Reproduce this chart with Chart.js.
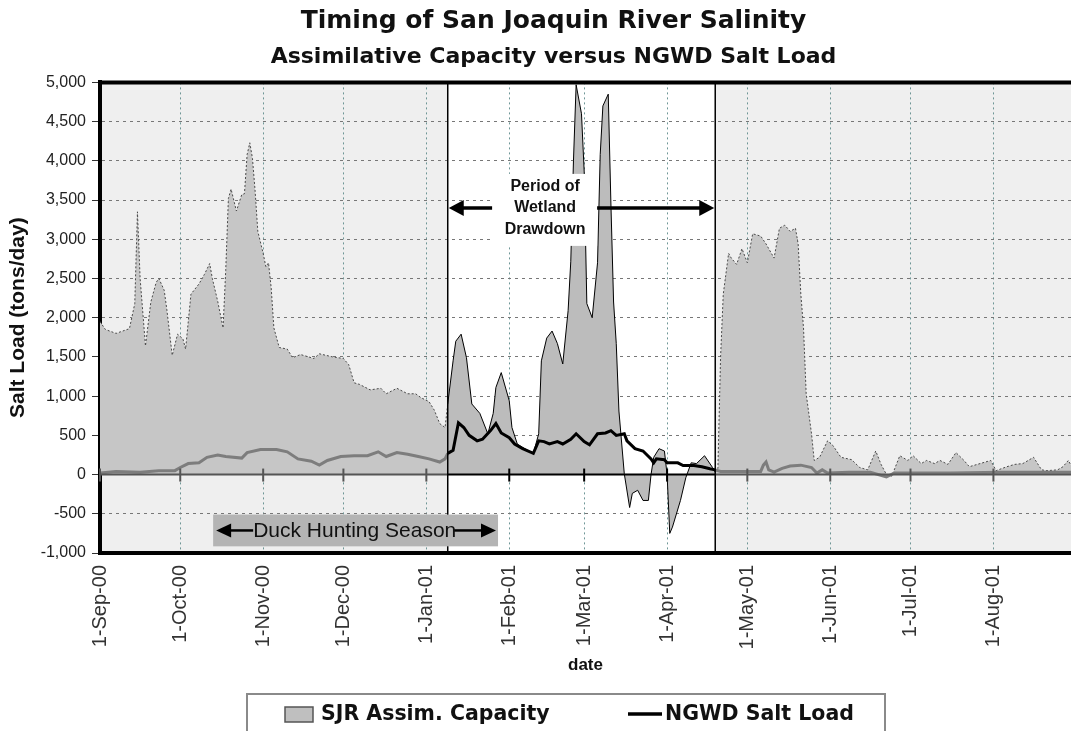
<!DOCTYPE html>
<html>
<head>
<meta charset="utf-8">
<script src="https://cdn.jsdelivr.net/npm/chart.js@4.4.1/dist/chart.umd.min.js"></script>
<style>
  html, body { margin: 0; padding: 0; background: #fff; }
  #wrap { width: 1071px; height: 731px; position: relative; }
</style>
</head>
<body>
<div id="wrap"><canvas id="c"></canvas></div>
<script>
// ---------- data (days since 1-Sep-2000) ----------
const monthTickDays = [0, 30, 61, 91, 122, 153, 181, 212, 242, 273, 303, 334];
const monthTickLabels = ['1-Sep-00', '1-Oct-00', '1-Nov-00', '1-Dec-00', '1-Jan-01', '1-Feb-01',
                         '1-Mar-01', '1-Apr-01', '1-May-01', '1-Jun-01', '1-Jul-01', '1-Aug-01'];
const seriesLabels = ['SJR Assim. Capacity', 'NGWD Salt Load'];

const assimDays = [0, 2, 6, 11, 13, 14, 15, 17, 19, 21, 22, 24, 25, 27, 29, 31, 32, 34, 37, 39, 41, 42, 44, 46, 47,
  48, 49, 51, 53, 54, 55, 56, 57, 58, 59, 61, 62, 63, 64, 65, 67, 70, 72, 75, 80, 82, 87, 91, 93, 95, 97,
  101, 105, 107, 111, 115, 118, 120, 123, 125, 127, 129, 130, 132, 133, 135, 137, 139, 142, 145, 147, 148,
  150, 153, 154, 156, 160, 162, 164, 165, 167, 169, 171, 173, 175, 176, 177, 178, 180, 181, 182, 184, 186,
  187, 188, 190, 191, 192, 193, 194, 196, 198, 199, 201, 203, 205, 206, 207, 209, 211, 212, 213, 214, 217,
  219, 221, 223, 226, 229, 230, 231, 232, 233, 234, 235, 236, 238, 240, 242, 244, 247, 249, 252, 254, 256,
  258, 260, 261, 262, 263, 264, 266, 267, 269, 272, 274, 277, 281, 284, 287, 290, 292, 294, 296, 299, 302,
  304, 307, 309, 312, 314, 317, 320, 323, 325, 329, 333, 335, 339, 342, 345, 349, 352, 354, 358, 360, 362, 363];
const assimValues = [1950, 1850, 1800, 1860, 2180, 3350, 2500, 1640, 2200, 2450, 2500, 2350, 2100, 1520, 1790, 1730, 1600, 2300, 2430, 2550, 2690, 2500, 2210, 1870, 2600,
  3520, 3640, 3360, 3570, 3580, 4080, 4230, 4030, 3610, 3100, 2820, 2650, 2700, 2380, 1870, 1620, 1600, 1490, 1530, 1480, 1540, 1500, 1480, 1400, 1170, 1150,
  1080, 1100, 1030, 1100, 1030, 1030, 980, 930, 820, 650, 600, 900, 1450, 1700, 1790, 1490, 900, 780, 520, 780, 1110,
  1300, 940, 600, 390, 305, 270, 520, 1450, 1740, 1830, 1670, 1410, 2090, 2720, 4000, 4970, 4600, 3870, 2180, 2000, 2700,
  4080, 4700, 4850, 3450, 2200, 1670, 810, 10, -420, -240, -200, -330, -330, 0, 220, 330, 300, 0, -750, -670, -330,
  -40, 150, 140, 240, 90, 30, 80, 1500, 2300, 2560, 2820, 2760, 2680, 2880, 2700, 3070, 3040, 2940, 2760, 3140, 3180,
  3100, 3140, 2940, 2300, 1870, 1030, 520, 180, 220, 430, 370, 220, 190, 90, 60, 300, 130, 0, -20, 240, 180,
  240, 140, 180, 140, 180, 130, 280, 180, 100, 140, 180, 50, 100, 130, 140, 220, 60, 50, 60, 100, 180, 120];

const ngwdDays = [0, 6, 15, 22, 28, 30, 33, 37, 40, 44, 47, 53, 55, 60, 66, 70, 74, 79, 82, 85, 90, 95, 100, 104, 107,
  111, 115, 119, 123, 127, 129, 130, 132, 134, 136, 138, 141, 143, 146, 148, 150, 153, 155, 158, 162, 164, 166, 168,
  171, 173, 176, 178, 181, 183, 186, 189, 191, 193, 196, 197, 200, 203, 206, 207, 208, 211, 212, 216, 218, 222, 225,
  228, 230, 232, 239, 247, 248, 249, 250, 252, 255, 258, 262, 266, 268, 270, 272, 280, 288, 294, 297, 318, 337, 363];
const ngwdValues = [20, 40, 30, 50, 50, 90, 140, 150, 220, 250, 230, 210, 280, 320, 320, 290, 200, 170, 120, 180, 230, 240, 240, 290, 230,
  280, 260, 230, 200, 160, 200, 270, 310, 660, 600, 500, 430, 450, 560, 650, 530, 470, 390, 330, 270, 430, 420, 390,
  420, 390, 450, 520, 420, 380, 520, 530, 560, 500, 520, 430, 330, 300, 200, 150, 200, 190, 150, 150, 115, 115, 100,
  75, 60, 40, 40, 40, 120, 160, 60, 30, 80, 110, 120, 90, 20, 60, 20, 30, 30, -30, 20, 20, 30, 30];

// ---------- annotation anchors (data units) ----------
const DRAWDOWN_START = 130, DRAWDOWN_END = 230;
const DRAWDOWN_TEXT = ['Period of', 'Wetland', 'Drawdown'];
const DUCK_TEXT = 'Duck Hunting Season';
const TITLE_TEXT = 'Timing of San Joaquin River Salinity';
const SUBTITLE_TEXT = 'Assimilative Capacity versus NGWD Salt Load';

const SANS = '"Liberation Sans", Arial, sans-serif';
const WIDE = '"DejaVu Sans", "Liberation Sans", sans-serif';
Chart.defaults.font.family = SANS;

const inShade = d => d < DRAWDOWN_START || d >= DRAWDOWN_END;

function arrowH(ctx, xTail, xTip, y, lw, headLen, headHalf) {
  const dir = xTip > xTail ? 1 : -1;
  ctx.beginPath();
  ctx.lineWidth = lw;
  ctx.moveTo(xTail, y);
  ctx.lineTo(xTip - dir * headLen * 0.8, y);
  ctx.stroke();
  ctx.beginPath();
  ctx.moveTo(xTip, y);
  ctx.lineTo(xTip - dir * headLen, y - headHalf);
  ctx.lineTo(xTip - dir * headLen, y + headHalf);
  ctx.closePath();
  ctx.fill();
}

const decor = {
  id: 'decor',
  afterLayout(chart) {
    // the original titles are centred slightly right of the canvas centre
    chart.boxes.forEach(b => {
      if (b.options && (b.options.text === TITLE_TEXT || b.options.text === SUBTITLE_TEXT)) {
        b.left += 36;
      }
    });
  },
  beforeDraw(chart) {
    const {ctx, chartArea: a, scales: {x}} = chart;
    ctx.save();
    ctx.fillStyle = '#fff';
    ctx.fillRect(0, 0, chart.width, chart.height);
    const x1 = x.getPixelForValue(DRAWDOWN_START), x2 = x.getPixelForValue(DRAWDOWN_END);
    ctx.fillStyle = '#efefef';
    ctx.fillRect(a.left, a.top, x1 - a.left, a.bottom - a.top);
    ctx.fillRect(x2, a.top, a.right - x2, a.bottom - a.top);
    ctx.restore();
  },
  afterDatasetsDraw(chart) {
    const {ctx, chartArea: a, scales: {x, y}} = chart;
    const x1 = x.getPixelForValue(DRAWDOWN_START), x2 = x.getPixelForValue(DRAWDOWN_END);
    const y0 = y.getPixelForValue(0);
    ctx.save();
    // zero line
    ctx.lineWidth = 2;
    ctx.strokeStyle = '#555';
    ctx.beginPath(); ctx.moveTo(a.left, y0); ctx.lineTo(x1, y0); ctx.moveTo(x2, y0); ctx.lineTo(a.right, y0); ctx.stroke();
    ctx.strokeStyle = '#000';
    ctx.beginPath(); ctx.moveTo(x1, y0); ctx.lineTo(x2, y0); ctx.stroke();
    // month ticks on zero line
    monthTickDays.forEach(d => {
      const px = x.getPixelForValue(d);
      ctx.strokeStyle = inShade(d) ? '#555' : '#000';
      ctx.beginPath(); ctx.moveTo(px, y0 - 6); ctx.lineTo(px, y0 + 7); ctx.stroke();
    });
    // boundary lines
    ctx.strokeStyle = '#000';
    ctx.lineWidth = 1.5;
    ctx.beginPath(); ctx.moveTo(x1, a.top); ctx.lineTo(x1, a.bottom); ctx.moveTo(x2, a.top); ctx.lineTo(x2, a.bottom); ctx.stroke();

    // Period of Wetland Drawdown label
    const cx = x.getPixelForValue(166.4), cy = y.getPixelForValue(3400);
    ctx.fillStyle = '#fff';
    ctx.fillRect(cx - 52, cy - 34, 104, 72);
    ctx.fillStyle = '#111';
    ctx.font = 'bold 16px ' + SANS;
    ctx.textAlign = 'center';
    ctx.textBaseline = 'middle';
    DRAWDOWN_TEXT.forEach((t, i) => ctx.fillText(t, cx, cy + (i - 1) * 21.5));
    ctx.strokeStyle = '#000'; ctx.fillStyle = '#000';
    const ay = y.getPixelForValue(3400);
    arrowH(ctx, cx - 53, x1 + 1, ay, 3.5, 15, 8);
    arrowH(ctx, cx + 52, x2 - 1, ay, 3.5, 15, 8);

    // Duck Hunting Season box
    const dl = x.getPixelForValue(42.3), dr = x.getPixelForValue(148.8);
    const dt = y.getPixelForValue(-510), db = y.getPixelForValue(-915);
    ctx.fillStyle = '#b4b4b4';
    ctx.fillRect(dl, dt, dr - dl, db - dt);
    const dy = (dt + db) / 2;
    ctx.font = '21px ' + SANS;
    ctx.fillStyle = '#111';
    ctx.textAlign = 'left';
    const tx = dl + 40;
    ctx.fillText(DUCK_TEXT, tx, dy + 1);
    const tw = ctx.measureText(DUCK_TEXT).width;
    ctx.fillStyle = '#000'; ctx.strokeStyle = '#000';
    arrowH(ctx, tx, dl + 3, dy, 2.5, 15, 7);
    arrowH(ctx, tx + tw - 2, dr - 2, dy, 2.5, 15, 7);
    ctx.restore();
  },
  afterDraw(chart) {
    const {ctx, chartArea: a} = chart;
    ctx.save();
    // heavy top frame
    ctx.strokeStyle = '#000';
    ctx.lineWidth = 4;
    ctx.beginPath(); ctx.moveTo(a.left - 2, a.top); ctx.lineTo(a.right, a.top); ctx.stroke();

    // legend (from dataset labels/colours)
    const ds = chart.data.datasets;
    ctx.strokeStyle = '#8a8a8a';
    ctx.lineWidth = 2;
    ctx.strokeRect(247, 694, 638, 60);
    ctx.fillStyle = '#bfbfbf';
    ctx.fillRect(285, 707, 28, 15);
    ctx.strokeStyle = '#555'; ctx.lineWidth = 1.5;
    ctx.strokeRect(285, 707, 28, 15);
    ctx.font = 'bold 20.5px ' + WIDE;
    ctx.fillStyle = '#111';
    ctx.textBaseline = 'middle';
    ctx.textAlign = 'left';
    ctx.fillText(ds[0].label, 321, 715);
    ctx.strokeStyle = '#000'; ctx.lineWidth = 3.5;
    ctx.beginPath(); ctx.moveTo(628, 714); ctx.lineTo(662, 714); ctx.stroke();
    ctx.fillText(ds[1].label, 665, 715);
    ctx.restore();
  }
};

new Chart(document.getElementById('c'), {
  type: 'line',
  data: {
    datasets: [
      {
        label: seriesLabels[0],
        data: assimDays.map((d, i) => ({x: d, y: assimValues[i]})),
        fill: 'origin',
        backgroundColor: '#bfbfbf',
        borderColor: '#000',
        borderWidth: 1,
        pointRadius: 0,
        tension: 0,
        order: 2,
        segment: {
          borderColor: c => inShade(c.p0.parsed.x) ? '#4a4a4a' : '#000',
          borderDash: c => inShade(c.p0.parsed.x) ? [2, 2] : [],
          backgroundColor: c => inShade(c.p0.parsed.x) ? '#c6c6c6' : '#bcbcbc'
        }
      },
      {
        label: seriesLabels[1],
        data: ngwdDays.map((d, i) => ({x: d, y: ngwdValues[i]})),
        fill: false,
        borderColor: '#000',
        borderWidth: 3,
        pointRadius: 0,
        tension: 0,
        order: 1,
        segment: {
          borderColor: c => inShade(c.p0.parsed.x) ? '#7d7d7d' : '#000'
        }
      }
    ]
  },
  options: {
    responsive: true,
    maintainAspectRatio: false,
    animation: false,
    events: [],
    layout: { padding: { left: 0, right: 0, top: 0, bottom: 50 } },
    plugins: {
      legend: { display: false },
      tooltip: { enabled: false },
      title: {
        display: true,
        text: TITLE_TEXT,
        color: '#111',
        font: { family: WIDE, size: 25, weight: 'bold' },
        padding: { top: 6, bottom: 2 }
      },
      subtitle: {
        display: true,
        text: SUBTITLE_TEXT,
        color: '#111',
        font: { family: WIDE, size: 22, weight: 'bold' },
        padding: { top: 6, bottom: 12 }
      }
    },
    scales: {
      x: {
        type: 'linear',
        min: 0,
        max: 363,
        afterBuildTicks: s => { s.ticks = monthTickDays.map(v => ({ value: v })); },
        afterFit: s => { s.height = 128; },
        ticks: {
          autoSkip: false,
          maxRotation: 90,
          minRotation: 90,
          padding: 4,
          color: '#333',
          font: { size: 20 },
          callback: (v, i) => monthTickLabels[i]
        },
        grid: {
          color: 'rgba(95,140,140,0.9)',
          lineWidth: 1,
          tickLength: 8,
          tickColor: 'rgba(0,0,0,0)'
        },
        border: { display: true, color: '#000', width: 4, dash: [2, 3] },
        title: {
          display: true,
          text: 'date',
          color: '#111',
          font: { size: 17, weight: 'bold' },
          padding: { top: 0, bottom: 5 }
        }
      },
      y: {
        min: -1000,
        max: 5000,
        afterFit: s => { s.width = 100; },
        ticks: {
          stepSize: 500,
          padding: 6,
          color: '#222',
          font: { size: 16 },
          callback: v => v.toLocaleString('en-US')
        },
        grid: {
          color: '#777',
          lineWidth: 1,
          tickLength: 8,
          tickColor: '#333'
        },
        border: { display: true, color: '#000', width: 4, dash: [3, 4] },
        title: {
          display: true,
          text: 'Salt Load (tons/day)',
          color: '#111',
          font: { size: 21, weight: 'bold' },
          padding: { top: 6, bottom: 0 }
        }
      }
    }
  },
  plugins: [decor]
});
</script>
</body>
</html>
